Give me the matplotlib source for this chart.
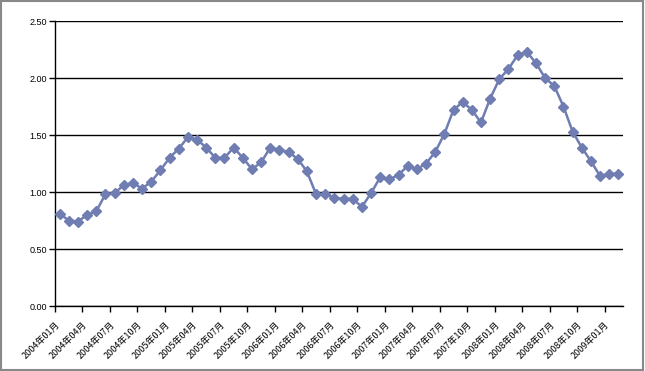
import numpy as np
from matplotlib import pyplot as plt
from matplotlib.patches import Rectangle

plt.rcParams['font.family'] = ['Noto Sans CJK JP', 'DejaVu Sans']

# monthly values, 2004-01 .. 2009-02
months = ["{}年{:02d}月".format(2004 + i // 12, i % 12 + 1) for i in range(62)]
values = [0.81, 0.75, 0.74, 0.80, 0.83, 0.98, 0.99, 1.06, 1.08, 1.03,
          1.09, 1.19, 1.30, 1.38, 1.48, 1.46, 1.39, 1.30, 1.30, 1.39,
          1.30, 1.20, 1.26, 1.39, 1.37, 1.35, 1.29, 1.18, 0.98, 0.98,
          0.95, 0.94, 0.94, 0.87, 0.99, 1.13, 1.11, 1.15, 1.23, 1.20,
          1.25, 1.35, 1.51, 1.72, 1.79, 1.72, 1.61, 1.82, 1.99, 2.08,
          2.20, 2.23, 2.13, 2.00, 1.93, 1.75, 1.53, 1.39, 1.27, 1.14,
          1.16, 1.16]
yticks = [0.0, 0.5, 1.0, 1.5, 2.0, 2.5]

fig = plt.figure(figsize=(6.45, 3.71), dpi=100)
ax = fig.add_axes([55 / 645, 1 - 306 / 371, 568 / 645, 285 / 371])

x = np.arange(len(values))
ax.plot(x, values, color="#6f7db2", lw=1.8, marker="D", ms=5.5,
        markeredgecolor="#6f7db2", zorder=3)

ax.set_xlim(-0.5, len(values) - 0.5)
ax.set_ylim(0, 2.5)
ax.set_yticks(yticks)
ax.set_yticklabels(["{:.2f}".format(v) for v in yticks], fontsize=6.5,
                   family=['Liberation Sans'])
ax.yaxis.grid(True, color="black", lw=1)
ax.set_axisbelow(True)

tick_pos = np.arange(-0.5, len(values) - 1, 3)
ax.set_xticks(tick_pos)
ax.set_xticklabels([months[int(p + 0.5)] for p in tick_pos], rotation=45,
                   ha="right", va="top", rotation_mode="anchor", fontsize=6.5)
ax.tick_params(axis="both", length=4, width=1, color="black", pad=2)
ax.tick_params(axis="x", pad=6)

for side in ["top", "right"]:
    ax.spines[side].set_visible(False)
for side in ["left", "bottom"]:
    ax.spines[side].set_color("black")
    ax.spines[side].set_linewidth(1)

fig.patches.append(Rectangle((0.002, 0.003), 0.995, 0.994, transform=fig.transFigure,
                             fill=False, edgecolor="#888888", lw=1.5))

fig.savefig("out.png", dpi=100)
